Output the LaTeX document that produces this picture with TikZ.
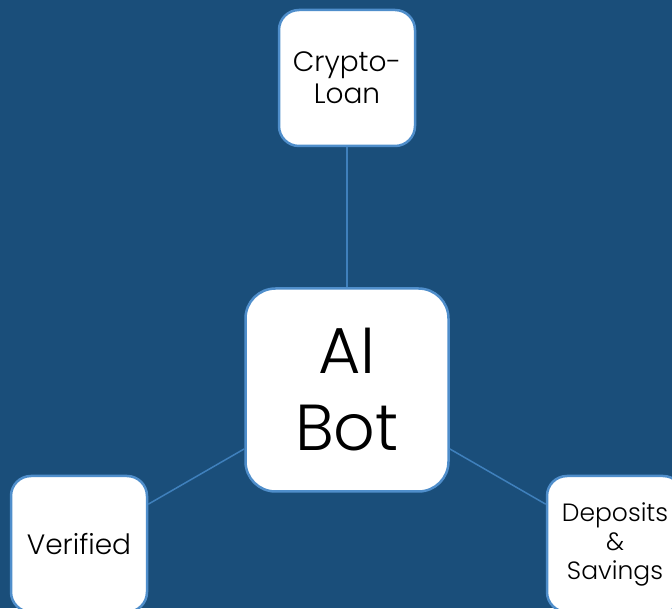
\documentclass[tikz,border=0pt]{standalone}
\usepackage{fontspec}
\setmainfont{Poppins}[UprightFont = * Light]
\usepackage{xcolor}
\definecolor{navy}{HTML}{1A4E7A}
\definecolor{rim}{HTML}{4F8ECB}
\definecolor{spoke}{HTML}{3F80BC}
\usepackage{tikz}
\usetikzlibrary{positioning,backgrounds}

\begin{document}
\begin{tikzpicture}[x=1pt, y=1pt, node distance = 140pt,
		leaf/.style={
					rectangle, minimum width = 136pt, minimum height = 136pt, rounded corners = 20pt,
					line width = 2.5pt, draw = rim, fill = white, align = center,
					font = \fontsize{28}{32}\selectfont, inner sep = 0pt},
		hub/.style={leaf, minimum width = 203pt, minimum height = 203pt, rounded corners = 30pt,
					font = \fontsize{65}{77}\selectfont},
		spokeline/.style={draw = spoke, line width = 1.5pt}]
		\fill[navy] (0,0) rectangle (672,608);
		\useasboundingbox (0,0) rectangle (672,608);
		\clip (0,0) rectangle (672,608);
		\node (bot) [hub] at (347,218) {AI\\Bot};
		\node (loan) [leaf, above=of bot] {Crypto-\\Loan};
		\node (verified) [leaf] at (79,64) {Verified};
		\node (deposits) [leaf, font = \fontsize{25}{29}\selectfont] at (615,64) {Deposits\\\&\\Savings};
		\draw [spokeline] (loan) -- (bot);
		\draw [spokeline] (verified) -- (bot);
		\draw [spokeline] (deposits) -- (bot);
	\end{tikzpicture}
\end{document}
